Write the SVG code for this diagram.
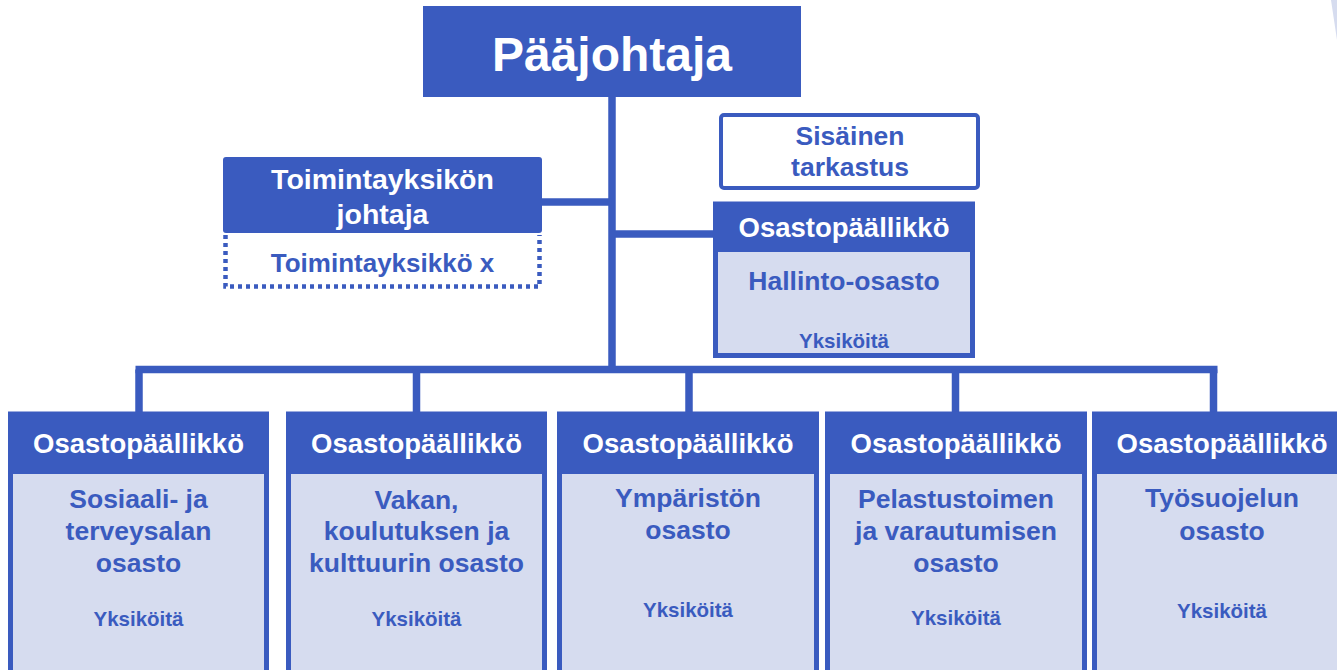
<svg xmlns="http://www.w3.org/2000/svg" width="1337" height="670" viewBox="0 0 1337 670">
<style>
.hb{fill:#3A5BBF}
.body{fill:#D6DCEF;stroke:#3A5BBF;stroke-width:5}
.ln{stroke:#3A5BBF;stroke-width:7.5;fill:none}
.t{font-family:"Liberation Sans",Arial,sans-serif;font-weight:bold;text-anchor:middle}
.w{fill:#FFFFFF}
.b{fill:#3A5BBF}
.hd{font-size:27.5px}
.bt{font-size:26.5px}
.sm{font-size:20.5px}
</style>
<rect width="1337" height="670" fill="#FFFFFF"/>
<polygon points="1331,0 1337,0 1337,40" fill="#D6DCEF"/>
<g id="connectors">
<path class="ln" d="M612,97 V369.5"/>
<path class="ln" d="M542,202 H612"/>
<path class="ln" d="M612,234 H713"/>
<path class="ln" d="M135.5,369.5 H1217.5"/>
<path class="ln" d="M139,369.5 V412"/>
<path class="ln" d="M416.5,369.5 V412"/>
<path class="ln" d="M689,369.5 V412"/>
<path class="ln" d="M955.5,369.5 V412"/>
<path class="ln" d="M1213.5,369.5 V412"/>
</g>
<g id="paajohtaja">
<rect class="hb" x="423" y="6" width="378" height="91"/>
<text class="t w" x="612" y="71" font-size="48">Pääjohtaja</text>
</g>
<g id="toimintayksikon-johtaja">
<rect class="hb" x="223" y="157" width="319" height="76" rx="3"/>
<text class="t w" x="382.5" y="189" font-size="28.5">Toimintayksikön</text>
<text class="t w" x="382.5" y="224" font-size="28.5">johtaja</text>
</g>
<g id="toimintayksikko-x">
<path d="M225.5,235 V286.5 H539.5 V235" fill="none" stroke="#3A5BBF" stroke-width="4.5" stroke-dasharray="4 4"/>
<text class="t b" x="382.5" y="272" font-size="26">Toimintayksikkö x</text>
</g>
<g id="sisainen-tarkastus">
<rect x="721" y="115" width="257" height="73" rx="3" fill="#FFFFFF" stroke="#3A5BBF" stroke-width="4"/>
<text class="t b bt" x="850" y="145">Sisäinen</text>
<text class="t b bt" x="850" y="176">tarkastus</text>
</g>
<g id="hallinto-osasto">
<rect class="body" x="715.5" y="204" width="257" height="151.5" stroke-width="4"/>
<rect class="hb" x="713" y="202" width="262" height="50" rx="3"/>
<text class="t w hd" x="844" y="237">Osastopäällikkö</text>
<text class="t b bt" x="844" y="290">Hallinto-osasto</text>
<text class="t b sm" x="844" y="348">Yksiköitä</text>
</g>
<g id="sosiaali-ja-terveysalan-osasto">
<rect class="body" x="10.5" y="414" width="256" height="270"/>
<rect class="hb" x="8" y="412" width="261" height="62" rx="3"/>
<text class="t w hd" x="138.5" y="453">Osastopäällikkö</text>
<text class="t b bt" x="138.5" y="508">Sosiaali- ja</text>
<text class="t b bt" x="138.5" y="540">terveysalan</text>
<text class="t b bt" x="138.5" y="572">osasto</text>
<text class="t b sm" x="138.5" y="626">Yksiköitä</text>
</g>
<g id="vakan-koulutuksen-ja-kulttuurin-osasto">
<rect class="body" x="288.5" y="414" width="256" height="270"/>
<rect class="hb" x="286" y="412" width="261" height="62" rx="3"/>
<text class="t w hd" x="416.5" y="453">Osastopäällikkö</text>
<text class="t b bt" x="416.5" y="509">Vakan,</text>
<text class="t b bt" x="416.5" y="540">koulutuksen ja</text>
<text class="t b bt" x="416.5" y="572">kulttuurin osasto</text>
<text class="t b sm" x="416.5" y="626">Yksiköitä</text>
</g>
<g id="ympariston-osasto">
<rect class="body" x="559.5" y="414" width="257" height="270"/>
<rect class="hb" x="557" y="412" width="262" height="62" rx="3"/>
<text class="t w hd" x="688" y="453">Osastopäällikkö</text>
<text class="t b bt" x="688" y="507">Ympäristön</text>
<text class="t b bt" x="688" y="539">osasto</text>
<text class="t b sm" x="688" y="617">Yksiköitä</text>
</g>
<g id="pelastustoimen-ja-varautumisen-osasto">
<rect class="body" x="827.5" y="414" width="257" height="270"/>
<rect class="hb" x="825" y="412" width="262" height="62" rx="3"/>
<text class="t w hd" x="956" y="453">Osastopäällikkö</text>
<text class="t b bt" x="956" y="508">Pelastustoimen</text>
<text class="t b bt" x="956" y="540">ja varautumisen</text>
<text class="t b bt" x="956" y="572">osasto</text>
<text class="t b sm" x="956" y="625">Yksiköitä</text>
</g>
<g id="tyosuojelun-osasto">
<rect class="body" x="1094.5" y="414" width="257" height="270"/>
<rect class="hb" x="1092" y="412" width="262" height="62" rx="3"/>
<text class="t w hd" x="1222" y="453">Osastopäällikkö</text>
<text class="t b bt" x="1222" y="507">Työsuojelun</text>
<text class="t b bt" x="1222" y="540">osasto</text>
<text class="t b sm" x="1222" y="618">Yksiköitä</text>
</g>
</svg>
